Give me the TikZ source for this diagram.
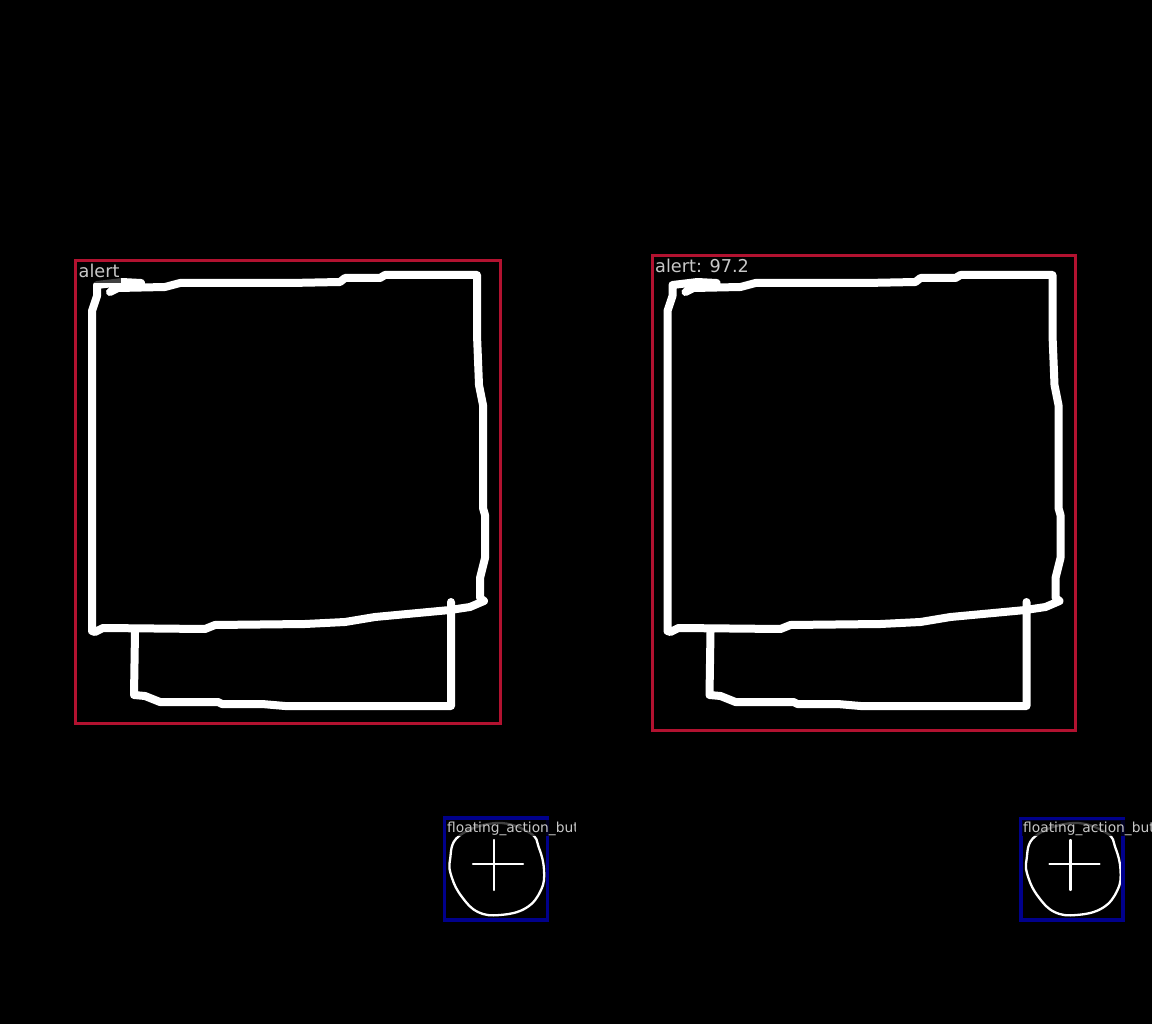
\documentclass[tikz,border=0pt]{standalone}
\usepackage{fontspec}
\setmainfont{DejaVu Sans}
\definecolor{alertred}{RGB}{178,18,48}
\definecolor{fabblue}{RGB}{0,0,139}
\definecolor{labelgray}{RGB}{200,200,200}
\tikzset{
  stroke/.style={white, line width=8pt, line cap=round, line join=round},
  thinstroke/.style={white, line width=2.3pt, line cap=round, line join=round},
  alertbox/.style={draw=alertred, line width=3pt},
  fabbox/.style={draw=fabblue, line width=3.4pt},
  tag/.style={anchor=base west, inner xsep=1pt, inner ysep=0pt, fill=black, fill opacity=0.75, text opacity=1, text=labelgray},
}
\newcommand{\alertsketch}{
\draw[stroke] (110,292) -- (118,288) -- (138,286) -- (141,283) -- (122,282) -- (97,285) -- (97,296) -- (92,311) -- (92,631) -- (95,632) -- (103,628) -- (205,629) -- (215,625) -- (305,624) -- (345,622) -- (375,617) -- (450,610) -- (470,607) -- (484,601) -- (480,598) -- (480,578) -- (485,558) -- (485,515) -- (483,508) -- (483,405) -- (479,385) -- (477,335) -- (477,275) -- (385,275) -- (380,278) -- (345,278) -- (340,282) -- (290,283) -- (180,283) -- (165,287) -- (118,288);
\draw[stroke] (135,632) -- (134,695) -- (145,696) -- (160,702) -- (218,702) -- (222,704) -- (262,704) -- (285,706) -- (451,706) -- (451,602);
}
\newcommand{\fabsketch}{
\draw[thinstroke] plot[smooth cycle, tension=0.7] coordinates {(497,823) (530,833) (539,848) (544,870) (541,890) (526,908) (500,915) (478,912) (462,897) (452,878) (450,860) (459,836)};
\draw[thinstroke] (494,840) -- (494,890);
\draw[thinstroke] (473,864) -- (523,864);
}

\begin{document}
\begin{tikzpicture}[x=1pt,y=-1pt]
\useasboundingbox[fill=black] (0,0) rectangle (1152,1024);
% left side
\alertsketch
\fabsketch
\draw[alertbox] (75,261) rectangle (500,723);
\draw[fabbox] (444.5,818) rectangle (547.5,920);
% right side
\begin{scope}[xshift=575.5pt]
\alertsketch
\end{scope}
\begin{scope}[xshift=576.5pt]
\fabsketch
\end{scope}
\draw[alertbox] (652,255.5) rectangle (1075.5,730);
\draw[fabbox] (1021,819) rectangle (1123,920);
% labels
\node[tag, font=\fontsize{17.7}{20}\selectfont, text height=14pt, text depth=5pt] (alertlabel) at (77.5,277.7) {alert};
\node[tag, font=\fontsize{17.7}{20}\selectfont, text height=14pt, text depth=5pt] (alertscore) at (654,272.2) {alert: 97.2};
\begin{scope}
\clip (440,815) rectangle (575.5,840);
\node[tag, font=\fontsize{13.8}{16}\selectfont, text height=12pt, text depth=4pt] (fablabel) at (446,832) {floating\_action\_button};
\end{scope}
\node[tag, font=\fontsize{13.8}{16}\selectfont, text height=12pt, text depth=4pt] (fabscore) at (1022,832) {floating\_action\_button};
\end{tikzpicture}
\end{document}
